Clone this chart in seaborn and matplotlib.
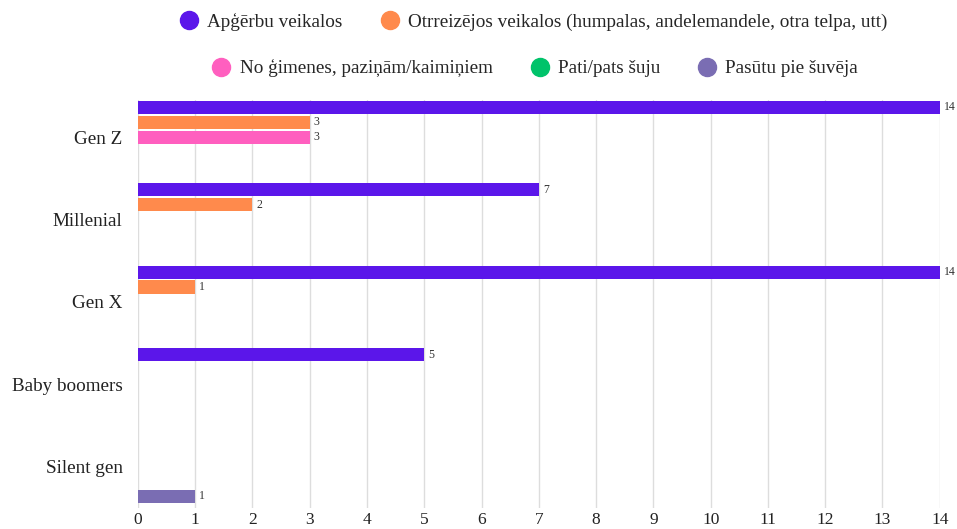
import pandas as pd
import seaborn as sns
import matplotlib.pyplot as plt
from matplotlib.lines import Line2D

generations = ["Gen Z", "Millenial", "Gen X", "Baby boomers", "Silent gen"]
sources = [
    "Apģērbu veikalos",
    "Otrreizējos veikalos (humpalas, andelemandele, otra telpa, utt)",
    "No ģimenes, paziņām/kaimiņiem",
    "Pati/pats šuju",
    "Pasūtu pie šuvēja",
]
colors = ["#5b16ea", "#ff8a4c", "#ff5fbf", "#00c36a", "#7a6db3"]

# counts per generation, one list per source
shops = [14, 7, 14, 5, 0]
second_hand = [3, 2, 1, 0, 0]
family = [3, 0, 0, 0, 0]
self_sew = [0, 0, 0, 0, 0]
tailor = [0, 0, 0, 0, 1]

counts = [shops, second_hand, family, self_sew, tailor]
rows = []
for src, vals in zip(sources, counts):
    for gen, v in zip(generations, vals):
        rows.append({"gen": gen, "source": src, "count": v})
df = pd.DataFrame(rows)

sns.set_style("white")
plt.rcParams["font.family"] = ["Liberation Serif", "DejaVu Serif"]

fig = plt.figure(figsize=(9.57, 5.29), dpi=100)
ax = fig.add_axes([0.144, 0.040, 0.838, 0.771])

sns.barplot(
    data=df, x="count", y="gen", hue="source",
    order=generations, hue_order=sources, palette=colors,
    orient="h", width=0.9, gap=0.12, saturation=1, linewidth=0,
    legend=False, ax=ax,
)

for cont, vals in zip(ax.containers, counts):
    labels = [str(v) if v > 0 else "" for v in vals]
    ax.bar_label(cont, labels=labels, padding=3, fontsize=8.5, color="#333333")

ax.set_xlim(0, 14)
ax.set_ylim(4.5, -0.45)
ax.set_xticks(range(15))
ax.grid(axis="x", color="#dddddd", linewidth=1)
ax.set_axisbelow(True)
sns.despine(ax=ax, left=True, bottom=True)
ax.tick_params(axis="x", labelsize=12.5, length=0, pad=3, colors="#222222")
ax.tick_params(axis="y", labelsize=13.8, length=0, pad=11, colors="#222222")
ax.set_xlabel("")
ax.set_ylabel("")

def handle(c):
    return Line2D([], [], marker="o", linestyle="", markersize=13,
                  markerfacecolor=c, markeredgecolor=c)

legend_kw = dict(loc="center", frameon=False, fontsize=13.8, handlelength=1.0,
                 handletextpad=0.45, columnspacing=1.95)
leg1 = fig.legend([handle(c) for c in colors[:2]], sources[:2], ncol=2,
                  bbox_to_anchor=(0.5575, 0.958), **legend_kw)
leg2 = fig.legend([handle(c) for c in colors[2:]], sources[2:], ncol=3,
                  bbox_to_anchor=(0.559, 0.871), **legend_kw)

fig.savefig("out.png", dpi=100)
